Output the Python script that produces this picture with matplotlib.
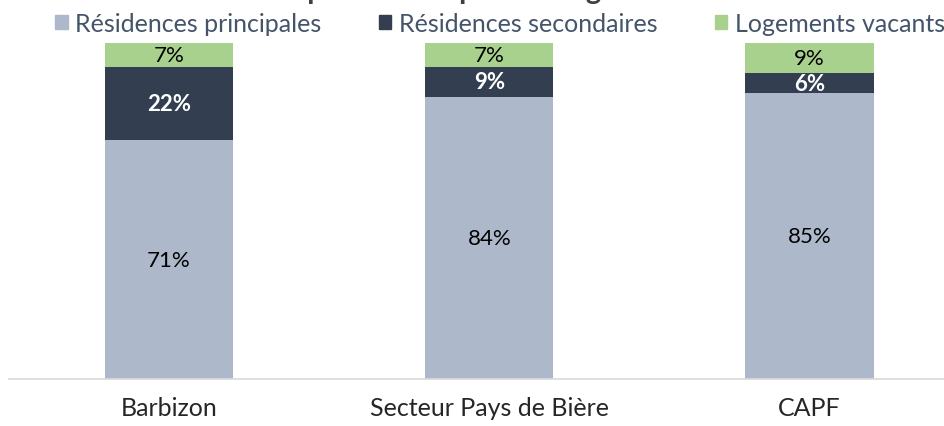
import matplotlib.pyplot as plt
import numpy as np
from matplotlib.patches import Patch

plt.rcParams['font.family'] = ['Lato', 'DejaVu Sans']

categories = ['Barbizon', 'Secteur Pays de Bière', 'CAPF']
principales = [71, 84, 85]
secondaires = [22, 9, 6]
vacants = [7, 7, 9]
series_names = ['Résidences principales', 'Résidences secondaires', 'Logements vacants']
title = 'Composition du parc de logements'

colors = ['#ADB9CA', '#333F50', '#A9D18E']
label_colors = ['#000000', '#FFFFFF', '#000000']


def main():
    fig = plt.figure(figsize=(9.44, 4.27), dpi=100)
    ax = fig.add_axes([9 / 944, 47 / 427, 1 - 9 / 944, 380 / 427])

    x = np.arange(len(categories))
    bottom = np.zeros(len(categories))
    for vals, col, lcol, name in zip([principales, secondaires, vacants], colors, label_colors, series_names):
        vals = np.array(vals, dtype=float)
        ax.bar(x, vals, 0.4, bottom=bottom, color=col, label=name)
        for xi, b, v in zip(x, bottom, vals):
            ax.text(xi, b + v / 2, f'{int(v)}%', ha='center', va='center', fontsize=16,
                    color=lcol, fontweight='bold' if lcol == '#FFFFFF' else 'normal')
        bottom += vals

    ax.set_xlim(-0.5, 2.42)
    ax.set_ylim(0, 113.1)
    ax.set_yticks([])
    ax.set_xticks(x)
    ax.set_xticklabels(categories, fontsize=18, color='#262626')
    ax.tick_params(axis='x', length=0, pad=12)
    for s in ['top', 'right', 'left']:
        ax.spines[s].set_visible(False)
    ax.spines['bottom'].set_color('#D9D9D9')
    ax.spines['bottom'].set_linewidth(1.2)

    handles = [Patch(color=c) for c in colors]
    fig.legend(handles, series_names, loc='center left', bbox_to_anchor=(55 / 944, 1 - 24 / 427),
               ncol=3, frameon=False, fontsize=18, labelcolor='#44546A',
               handlelength=0.5, handleheight=0.5, handletextpad=0.3, columnspacing=2.3,
               borderaxespad=0, borderpad=0)

    fig.text(0.5, 1 + 1 / 427, title, ha='center', va='baseline', fontsize=21,
             fontweight='bold', color='#404040')

    fig.savefig('out.png', dpi=100)


if __name__ == '__main__':
    main()
